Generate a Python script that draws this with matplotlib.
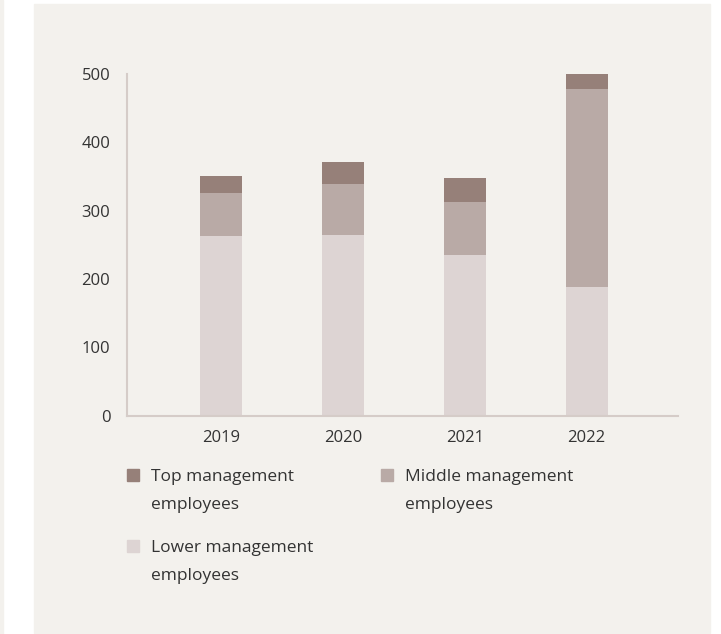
import matplotlib
matplotlib.use("Agg")
import matplotlib.pyplot as plt
from matplotlib.patches import Rectangle

# ── Data ────────────────────────────────────────────────────────────────────
years = ["2019", "2020", "2021", "2022"]
lower = [263, 264, 235, 188]
middle = [63, 75, 78, 290]
top = [25, 32, 35, 22]

series_labels = ["Top management\nemployees",
                 "Middle management\nemployees",
                 "Lower management\nemployees"]
c_top, c_mid, c_low = "#968079", "#b9aaa6", "#ddd4d3"
panel = "#f3f1ed"
text_c = "#333333"

plt.rcParams["font.family"] = ["Open Sans", "DejaVu Sans"]

W, H = 721, 634
fig = plt.figure(figsize=(W / 100, H / 100), dpi=100)
fig.patch.set_facecolor("white")

def fx(px):
    return px / W

def fy(py):
    return 1 - py / H

# background panel + thin left strip
fig.add_artist(Rectangle((fx(34), fy(633)), fx(710 - 34), (633 - 4) / H,
                         transform=fig.transFigure, color=panel, zorder=0))
fig.add_artist(Rectangle((0, 0), fx(3), 1, transform=fig.transFigure,
                         color=panel, zorder=0))

ax = fig.add_axes([fx(127), fy(415.7), fx(678 - 127), (415.7 - 74) / H])
ax.set_facecolor("none")

x = range(len(years))
bw = 0.345
bottom_mid = lower
bottom_top = [a + b for a, b in zip(lower, middle)]
ax.bar(x, lower, width=bw, color=c_low, zorder=2)
ax.bar(x, middle, width=bw, bottom=bottom_mid, color=c_mid, zorder=2)
ax.bar(x, top, width=bw, bottom=bottom_top, color=c_top, zorder=2)

ax.set_xlim(-0.772, 3.75)
ax.set_ylim(0, 500)
ax.set_yticks([0, 100, 200, 300, 400, 500])
ax.set_xticks(list(x))
ax.set_xticklabels(years)
ax.tick_params(axis="both", length=0, labelsize=12, colors=text_c)
ax.tick_params(axis="y", pad=12)
ax.tick_params(axis="x", pad=10)

for s in ["top", "right"]:
    ax.spines[s].set_visible(False)
for s in ["left", "bottom"]:
    ax.spines[s].set_color("#d5ccc8")
    ax.spines[s].set_linewidth(1.5)

# ── Legend (manual, two columns) ────────────────────────────────────────────
legend_items = [
    (127, 475, series_labels[0], c_top),
    (381, 475, series_labels[1], c_mid),
    (127, 546, series_labels[2], c_low),
]
for px, py, lab, col in legend_items:
    fig.add_artist(Rectangle((fx(px), fy(py + 6)), fx(12), 12 / H,
                             transform=fig.transFigure, color=col))
    fig.text(fx(px + 24), fy(py - 6), lab, ha="left", va="top",
             fontsize=12.5, color=text_c, linespacing=2.0)

fig.savefig("out.png", dpi=100, facecolor=fig.get_facecolor())
